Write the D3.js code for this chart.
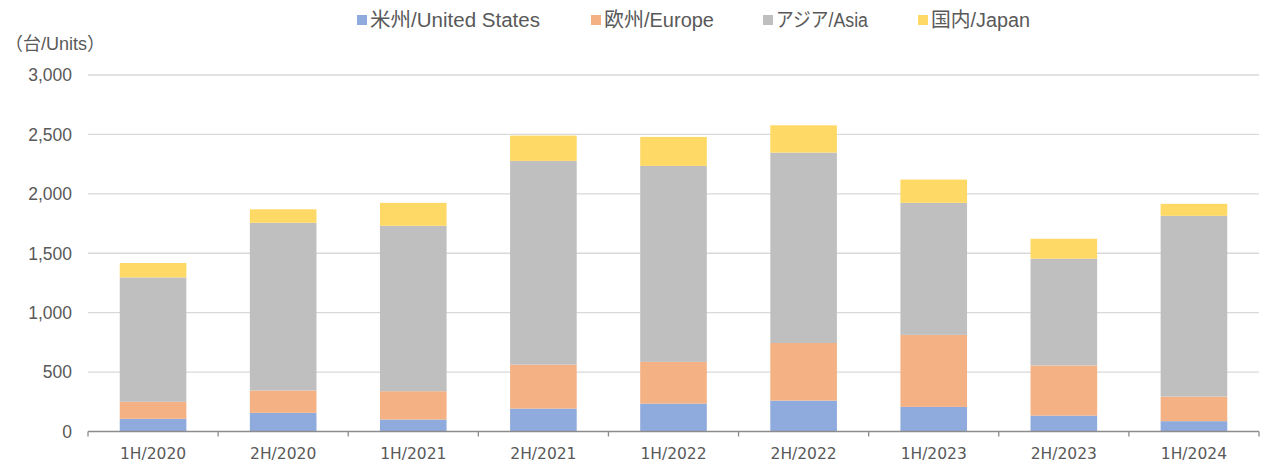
<!doctype html>
<html lang="ja">
<head>
<meta charset="UTF-8">
<title>Units by region</title>
<script src="https://cdn.jsdelivr.net/npm/d3@7"></script>
<style>
  body { margin: 0; background: #fff; }
  svg text { font-family: "Liberation Sans", Arial, "Noto Sans CJK JP", sans-serif; }
</style>
</head>
<body>
<div id="viz"></div>
<script>
// values (units)
var periods = ["1H/2020", "2H/2020", "1H/2021", "2H/2021", "1H/2022", "2H/2022", "1H/2023", "2H/2023", "1H/2024"];
var usValues     = [107, 157, 101, 193, 235, 260, 207, 134, 87];
var europeValues = [143, 188, 238, 370, 351, 485, 606, 421, 207];
var asiaValues   = [1047, 1411, 1392, 1714, 1649, 1602, 1111, 899, 1521];
var japanValues  = [121, 114, 193, 213, 244, 230, 196, 168, 101];
var seriesNames  = ["米州/United States", "欧州/Europe", "アジア/Asia", "国内/Japan"];
var seriesKeys   = ["us", "europe", "asia", "japan"];
var seriesColors = ["#8FAADC", "#F4B183", "#BFBFBF", "#FFD966"];
var yTicks = [0, 500, 1000, 1500, 2000, 2500, 3000];

var W = 1268, H = 464;
var mLeft = 88, mRight = 1259, mTop = 75, mBottom = 431.5;

var rows = periods.map(function(p, i) {
  return { period: p, us: usValues[i], europe: europeValues[i], asia: asiaValues[i], japan: japanValues[i] };
});

var svg = d3.select('#viz').append('svg').attr('width', W).attr('height', H);

var x = d3.scaleBand().domain(periods).range([mLeft, mRight]).paddingInner(0.488).paddingOuter(0.244);
var y = d3.scaleLinear().domain([0, 3000]).range([mBottom, mTop]);
var color = d3.scaleOrdinal().domain(seriesKeys).range(seriesColors);

// gridlines
svg.append('g').selectAll('line').data(yTicks.filter(function(d) { return d > 0; })).enter().append('line')
  .attr('x1', mLeft).attr('x2', mRight)
  .attr('y1', function(d) { return y(d); }).attr('y2', function(d) { return y(d); })
  .attr('stroke', '#D9D9D9').attr('stroke-width', 1.3);

// y labels
svg.append('g').selectAll('text').data(yTicks).enter().append('text')
  .attr('x', 72).attr('y', function(d) { return y(d); })
  .attr('dy', '0.36em').attr('text-anchor', 'end')
  .attr('fill', '#595959').style('font-size', '17.5px')
  .text(function(d) { return d3.format(',')(d); });

svg.append('text').attr('x', 5).attr('y', 50)
  .attr('fill', '#595959').style('font-size', '18px')
  .text('（台/Units）');

// stacked bars
var stacked = d3.stack().keys(seriesKeys)(rows);
svg.append('g').selectAll('g').data(stacked).enter().append('g')
  .attr('fill', function(d) { return color(d.key); })
  .selectAll('rect').data(function(d) { return d; }).enter().append('rect')
  .attr('x', function(d) { return x(d.data.period); })
  .attr('width', x.bandwidth())
  .attr('y', function(d) { return y(d[1]); })
  .attr('height', function(d) { return y(d[0]) - y(d[1]); });

// x axis: line + ticks at category boundaries
var xAxis = svg.append('g');
xAxis.append('line').attr('x1', mLeft).attr('x2', mRight).attr('y1', mBottom).attr('y2', mBottom)
  .attr('stroke', '#8C8C8C').attr('stroke-width', 1.3);
var bounds = periods.map(function(p, i) { return mLeft + i * x.step(); });
bounds.push(mRight);
xAxis.selectAll('line.tk').data(bounds).enter().append('line').attr('class', 'tk')
  .attr('x1', function(d) { return d; }).attr('x2', function(d) { return d; })
  .attr('y1', mBottom).attr('y2', mBottom + 5)
  .attr('stroke', '#8C8C8C').attr('stroke-width', 1.3);
xAxis.selectAll('text').data(periods).enter().append('text')
  .attr('x', function(d) { return x(d) + x.bandwidth() / 2; })
  .attr('y', 459).attr('text-anchor', 'middle')
  .attr('fill', '#595959')
  .style('font-family', '"DejaVu Sans", Verdana, sans-serif').style('font-size', '15.5px')
  .text(function(d) { return d; });

// legend (positions and text widths matched to the reference layout)
var legendX = [357, 591, 763, 918];
var legendW = [170, 110, 92, 99];
var legend = svg.append('g');
seriesNames.forEach(function(name, i) {
  legend.append('rect').attr('x', legendX[i]).attr('y', 15).attr('width', 10).attr('height', 10)
    .attr('fill', seriesColors[i]);
  legend.append('text').attr('x', legendX[i] + 13).attr('y', 27)
    .attr('fill', '#595959').style('font-size', '20px')
    .attr('textLength', legendW[i]).attr('lengthAdjust', 'spacingAndGlyphs')
    .text(name);
});
</script>
</body>
</html>
